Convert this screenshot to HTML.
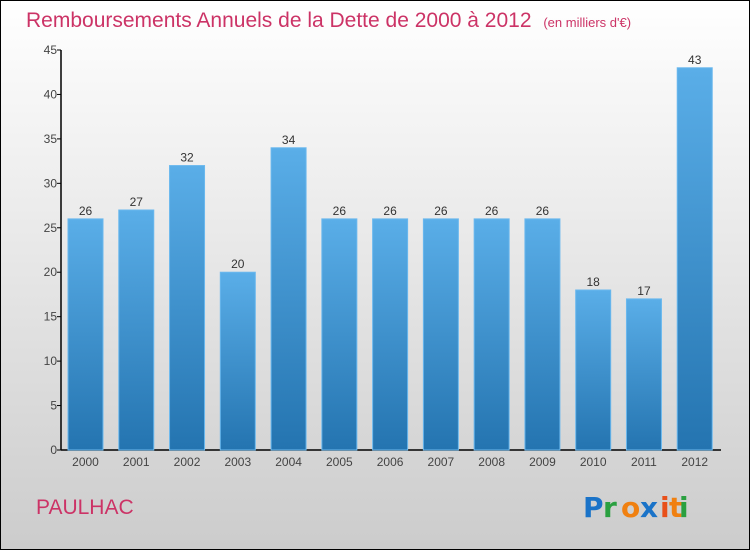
<!DOCTYPE html>
<html><head><meta charset="utf-8"><style>
html,body{margin:0;padding:0}
body{width:750px;height:550px;overflow:hidden;font-family:"Liberation Sans",sans-serif}
#wrap{position:absolute;left:0;top:0;width:748px;height:548px;border:1px solid #000;background:linear-gradient(#ffffff,#cccccc)}
</style></head><body>
<div id="wrap">
<svg id="chart" width="750" height="550" style="position:absolute;left:-1px;top:-1px">
<defs><linearGradient id="bg" x1="0" y1="0" x2="0" y2="1"><stop offset="0" stop-color="#5aaee8"/><stop offset="1" stop-color="#2474b0"/></linearGradient></defs>
<text x="26" y="27" font-size="21" fill="#cc3366">Remboursements Annuels de la Dette de 2000 à 2012 <tspan font-size="13" dx="6">(en milliers d'€)</tspan></text>
<text x="36" y="514" font-size="21" fill="#cc3366">PAULHAC</text>
<g font-size="28" font-weight="bold" font-family="'DejaVu Sans',sans-serif">
<text x="583" y="517" fill="#1a73c8">P</text><text x="603" y="517" fill="#2aa040">r</text><text x="621" y="517" fill="#f08010">o</text><text x="640" y="517" fill="#1a73c8">x</text><text x="660" y="517" fill="#e8501a">i</text><text x="669" y="517" fill="#f08010">t</text><text x="679" y="517" fill="#2aa040">i</text>
</g>
<g id="axes"></g><g id="bars"></g>
</svg>
</div>
<script>
const categories=["2000","2001","2002","2003","2004","2005","2006","2007","2008","2009","2010","2011","2012"];
const values=[26,27,32,20,34,26,26,26,26,26,18,17,43];
const yTicks=[0,5,10,15,20,25,30,35,40,45];
const NS="http://www.w3.org/2000/svg";
const svg=document.getElementById('chart'),ax=document.getElementById('axes'),bars=document.getElementById('bars');
const y0=450,yTop=50,yMax=45,x0=61,xEnd=721;
const yS=v=>y0-(v/yMax)*(y0-yTop);
const step=(xEnd-x0)/categories.length;
const xS=i=>x0+step*i+7;
function mk(t,a,p){const e=document.createElementNS(NS,t);for(const k in a)e.setAttribute(k,a[k]);p.appendChild(e);return e;}
const yl=mk('line',{x1:x0,y1:yTop,x2:x0,y2:y0,stroke:'#000','stroke-width':1.5},ax);


const xl=mk('line',{x1:x0,y1:y0,x2:xEnd,y2:y0,stroke:'#000','stroke-width':1.5},ax);


yTicks.forEach(v=>{
 mk('line',{x1:x0-4,y1:yS(v),x2:x0,y2:yS(v),stroke:'#000'},ax);
 const t=mk('text',{x:x0-4,y:yS(v)+4,'text-anchor':'end','font-size':12,fill:'#444'},ax);
 t.textContent=v;
 
 
});
categories.forEach((c,i)=>{
 const x=xS(i),w=35,v=values[i];
 const r=mk('rect',{x:x,y:yS(v),width:w,height:y0-yS(v),fill:'url(#bg)',stroke:'#6ab8ee','stroke-width':1},bars);
 
 
 const l=mk('text',{x:x+w/2,y:yS(v)-4,'text-anchor':'middle','font-size':12,fill:'#333'},bars);
 l.textContent=v;
 
 
 const t=mk('text',{x:x+w/2,y:466,'text-anchor':'middle','font-size':12,fill:'#444'},ax);
 t.textContent=c;
 
 
});
</script>
</body></html>
